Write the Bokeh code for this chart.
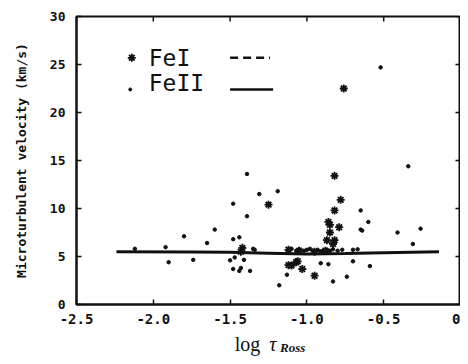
import math
from bokeh.plotting import figure
from bokeh.layouts import column
from bokeh.models import Range1d, Label, FixedTicker
from bokeh.embed import file_html
from bokeh.resources import INLINE

# FeI (asterisks)
fe1_x = [-1.43, -1.42, -1.25, -1.12, -1.10, -1.07, -1.06, -1.03, -0.95,
         -0.76, -0.82, -0.78, -0.82, -0.86, -0.85, -0.79, -0.85, -0.87, -0.82,
         -0.83, -1.12, -1.05, -0.95, -0.88]
fe1_y = [5.5, 5.9, 10.4, 4.1, 4.06, 4.4, 4.5, 3.7, 3.0,
         22.5, 13.4, 10.9, 9.8, 8.6, 8.3, 8.05, 7.5, 6.7, 6.7,
         6.3, 5.7, 5.6, 5.5, 5.6]

# FeII (dots)
fe2_x = [-2.12, -1.92, -1.90, -1.80, -1.74, -1.65, -1.60, -1.48, -1.48, -1.44,
         -1.50, -1.47, -1.48, -1.43, -1.44, -1.41, -1.37, -1.39, -1.39, -1.31,
         -1.19, -1.35, -1.34, -1.18, -1.13, -0.91, -0.86, -0.83, -0.74, -0.70,
         -0.65, -0.65, -0.64, -0.60, -0.59, -0.52, -0.41, -0.34, -0.31, -0.26,
         -0.77, -0.70, -0.67,
         -1.12, -1.10, -1.07, -1.05, -1.02, -1.00, -0.98, -0.96, -0.93, -0.91,
         -0.89, -0.87, -0.85, -0.83, -0.80]
fe2_y = [5.8, 5.97, 4.4, 7.1, 4.65, 6.4, 7.8, 10.5, 6.8, 7.0,
         4.6, 4.9, 3.7, 3.8, 3.5, 4.65, 3.5, 13.6, 9.2, 11.5,
         11.8, 5.8, 5.7, 2.0, 3.1, 4.3, 4.2, 2.4, 2.9, 4.5,
         9.8, 7.8, 7.7, 8.6, 4.0, 24.7, 7.5, 14.4, 6.3, 7.9,
         5.7, 5.7, 5.75,
         5.7, 5.8, 5.6, 5.75, 5.6, 5.7, 5.8, 5.6, 5.7, 5.55,
         5.6, 5.7, 5.6, 5.75, 5.6]

# FeII fit line
fit_x = [-2.24, -1.75, -1.5, -1.25, -1.0, -0.75, -0.5, -0.14]
fit_y = [5.5, 5.48, 5.45, 5.35, 5.25, 5.3, 5.4, 5.5]

x_ticks = [-2.5, -2.0, -1.5, -1.0, -0.5, 0.0]
y_ticks = [0, 5, 10, 15, 20, 25, 30]

INK = "#111111"
MONO = "DejaVu Sans Mono"
LEFT = 76
RIGHT = 0

p = figure(width=460, height=330, output_backend="svg", toolbar_location=None,
           x_range=Range1d(-2.5, 0.0), y_range=Range1d(0, 30),
           min_border_left=LEFT, min_border_right=RIGHT, min_border_top=16,
           min_border_bottom=26, y_axis_label="Microturbulent velocity (km/s)")
p.grid.visible = False
p.outline_line_color = INK
p.outline_line_width = 2

xa = p.xaxis[0]
xa.ticker = FixedTicker(ticks=x_ticks)
xa.major_label_overrides = {-2.5: "-2.5", -2.0: "-2.0", -1.5: "-1.5",
                            -1.0: "-1.0", -0.5: "-0.5", 0.0: "0"}
ya = p.yaxis[0]
ya.ticker = FixedTicker(ticks=y_ticks)
for ax in (xa, ya):
    ax.major_tick_in = 5
    ax.major_tick_out = 0
    ax.minor_tick_in = 0
    ax.minor_tick_out = 0
    ax.axis_line_color = INK
    ax.axis_line_width = 2
    ax.major_tick_line_color = INK
    ax.major_tick_line_width = 1.5
    ax.major_label_text_font = MONO
    ax.major_label_text_font_style = "bold"
    ax.major_label_text_color = INK
xa.major_label_text_font_size = "14px"
xa.major_label_standoff = 9
ya.major_label_text_font_size = "13px"
ya.major_label_standoff = 11
ya.axis_label_text_font = MONO
ya.axis_label_text_font_style = "bold"
ya.axis_label_text_font_size = "13px"
ya.axis_label_text_color = INK
ya.axis_label_standoff = 18

# inward ticks on the top and right frame edges
p.scatter([0.0] * len(y_ticks), y_ticks, marker="dash", size=10,
          line_color=INK, line_width=1.5)
p.scatter(x_ticks, [30] * len(x_ticks), marker="dash", size=10, angle=math.pi / 2,
          line_color=INK, line_width=1.5)

p.line(fit_x, fit_y, line_color=INK, line_width=3)
p.scatter(fe2_x, fe2_y, marker="circle", size=3.5, fill_color=INK, line_color=INK)
p.scatter(fe1_x, fe1_y, marker="asterisk", size=8, line_color=INK, line_width=1.8)

# legend (layout positions)
p.scatter([-2.14], [25.7], marker="asterisk", size=8, line_color=INK, line_width=1.8)
p.scatter([-2.15], [22.4], marker="circle", size=3, fill_color=INK, line_color=INK)
p.line([-1.50, -1.24], [25.7, 25.7], line_color=INK, line_width=2.5, line_dash="8 5")
p.line([-1.50, -1.22], [22.4, 22.4], line_color=INK, line_width=2.5)
for txt, yy in (("FeI", 25.7), ("FeII", 23.1)):
    p.add_layout(Label(x=-2.03, y=yy, text=txt, text_font=MONO, text_font_size="23px",
                       text_color=INK, text_baseline="middle", text_align="left"))

# strip below the axis holding the x-axis title
q = figure(width=460, height=26, output_backend="svg", toolbar_location=None,
           x_range=p.x_range, y_range=Range1d(0, 1), x_axis_type=None, y_axis_type=None,
           min_border_left=LEFT, min_border_right=RIGHT, min_border_top=0,
           min_border_bottom=0)
q.grid.visible = False
q.outline_line_color = None
q.add_layout(Label(x=-1.47, y=0.5, text="log", text_font="Liberation Serif",
                   text_font_size="20px", text_color=INK, text_baseline="middle"))
q.add_layout(Label(x=-1.245, y=0.5, text="τ", text_font="Liberation Serif",
                   text_font_style="italic", text_font_size="20px", text_color=INK,
                   text_baseline="middle"))
q.add_layout(Label(x=-1.175, y=0.35, text="Ross", text_font="Liberation Serif",
                   text_font_style="bold italic", text_font_size="13px", text_color=INK,
                   text_baseline="middle"))

layout = column(p, q, spacing=0)
open("out.html", "w").write(file_html(layout, INLINE))
